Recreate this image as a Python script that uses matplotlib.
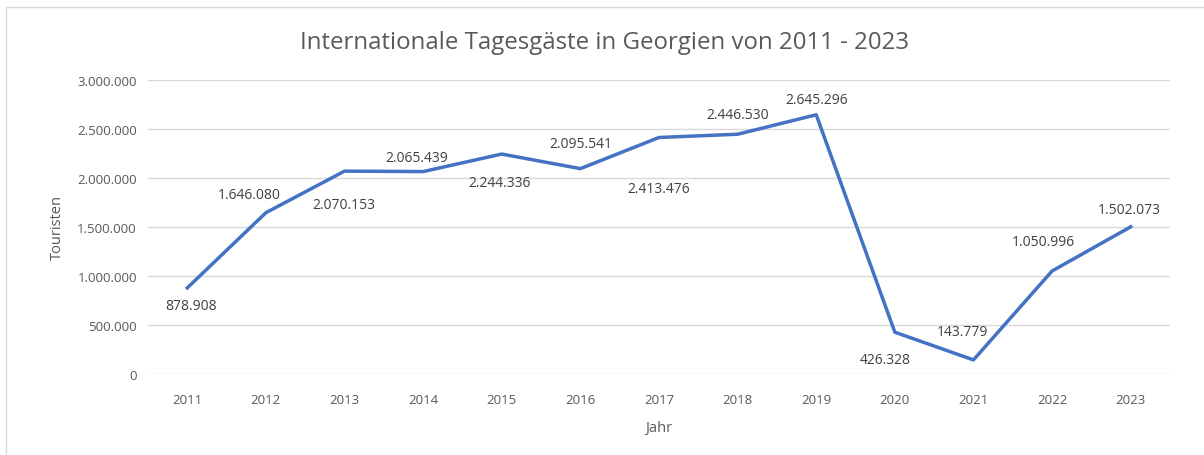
import matplotlib.pyplot as plt
from matplotlib.ticker import FuncFormatter, MultipleLocator
from matplotlib.patches import Rectangle

# Data
years = ["2011", "2012", "2013", "2014", "2015", "2016", "2017",
         "2018", "2019", "2020", "2021", "2022", "2023"]
tourists = [878908, 1646080, 2070153, 2065439, 2244336, 2095541, 2413476,
            2446530, 2645296, 426328, 143779, 1050996, 1502073]

# label offsets in pixels (dx, dy) relative to each point
label_offsets = [(4, -18), (-17, 18), (-1, -33), (-6, 14), (-2, -28), (0, 25),
                 (0, -51), (0, 20), (0, 15), (-10, -27), (-11, 28), (-9, 30), (-1, 17)]


def de_fmt(v, pos=None):
    return f"{int(round(v)):,}".replace(",", ".")


plt.rcParams['font.family'] = ['Open Sans', 'DejaVu Sans']

fig = plt.figure(figsize=(12.04, 4.56), dpi=100)
ax = fig.add_axes([148 / 1204, 1 - 375 / 456, (1170 - 148) / 1204, (375 - 81) / 456])

x = list(range(len(years)))
ax.plot(x, tourists, color="#4472C4", linewidth=2.5, solid_joinstyle="round")

for xi, v, (dx, dy) in zip(x, tourists, label_offsets):
    ax.annotate(de_fmt(v), (xi, v), xytext=(dx, dy), textcoords="offset pixels",
                ha="center", va="center", fontsize=10, color="#404040")

ax.set_xlim(-0.5, len(years) - 0.5)
ax.set_ylim(0, 3000000)
ax.yaxis.set_major_locator(MultipleLocator(500000))
ax.yaxis.set_major_formatter(FuncFormatter(de_fmt))
ax.set_xticks(x)
ax.set_xticklabels(years)
ax.tick_params(axis="both", length=0, labelsize=9.5, labelcolor="#595959")
ax.tick_params(axis="y", pad=8)
ax.tick_params(axis="x", pad=14)
ax.grid(axis="y", color="#d9d9d9", linewidth=1)
ax.set_axisbelow(True)
for s in ax.spines.values():
    s.set_visible(False)

ax.set_xlabel("Jahr", fontsize=10.5, color="#595959", labelpad=10)
ax.set_ylabel("Touristen", fontsize=10.5, color="#595959", labelpad=9)
fig.text(605 / 1204, 1 - 43 / 456, "Internationale Tagesgäste in Georgien von 2011 - 2023",
         ha="center", va="center", fontsize=17.3, color="#595959")

# chart frame
fig.patches.append(Rectangle((6 / 1204, -0.1), 1.2, 1 - 8 / 456 + 0.1, transform=fig.transFigure,
                             fill=False, edgecolor="#d9d9d9", linewidth=1))

fig.savefig("out.png", dpi=100)
